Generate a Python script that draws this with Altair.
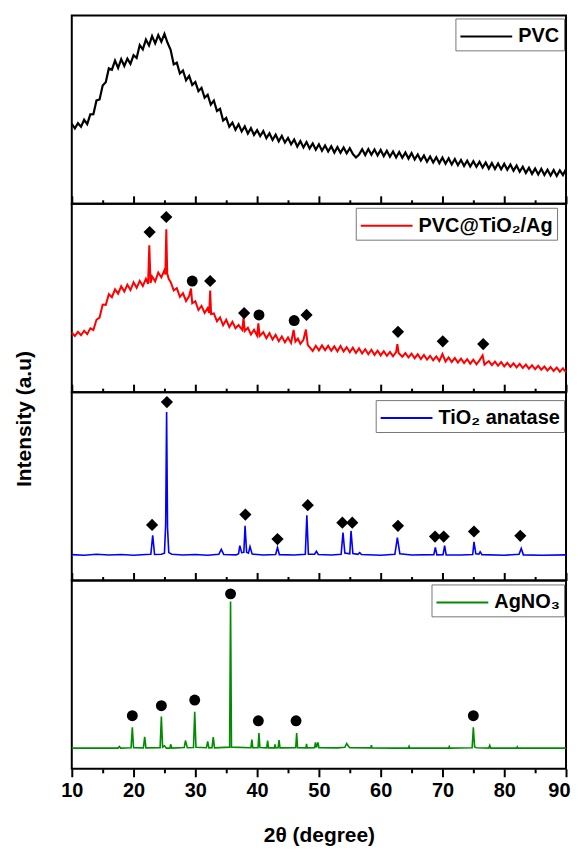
import altair as alt
import pandas as pd

FONT = "Liberation Sans"
X_DOMAIN = [10, 90]
TICK_VALUES = [10, 15, 20, 25, 30, 35, 40, 45, 50, 55, 60, 65, 70, 75, 80, 85, 90]

# ---------------- PVC (0.5 degree steps from 10 to 90) ----------------
pvc_y = [
    42.5, 40.0, 42.8, 40.9, 44.6, 42.3, 47.5, 47.6, 54.9, 55.4,
    62.8, 64.5, 71.9, 71.2, 76.0, 72.1, 76.8, 73.2, 77.1, 74.3,
    78.9, 77.4, 84.3, 82.0, 87.2, 84.1, 89.0, 85.2, 89.6, 86.1,
    90.2, 85.5, 81.8, 74.0, 74.9, 69.2, 70.8, 65.6, 67.9, 63.1,
    64.7, 59.8, 61.6, 56.3, 57.9, 52.6, 54.8, 49.3, 50.4, 44.2,
    45.6, 40.9, 43.1, 39.3, 42.2, 38.4, 41.1, 37.3, 40.2, 36.6,
    39.1, 36.0, 38.6, 34.9, 37.5, 33.9, 36.7, 33.2, 36.1, 32.5,
    35.0, 31.6, 34.1, 30.4, 33.3, 29.9, 32.8, 29.4, 32.0, 28.7,
    31.6, 28.2, 31.0, 27.8, 30.5, 27.2, 30.1, 27.1, 29.9, 26.8,
    29.5, 26.4, 24.6, 26.2, 29.0, 25.9, 29.1, 26.0, 28.8, 25.7,
    28.6, 25.3, 28.2, 25.0, 27.8, 24.6, 27.5, 24.4, 27.2, 24.0,
    26.9, 23.5, 26.2, 23.0, 25.6, 22.3, 25.1, 21.9, 24.7, 21.6,
    24.5, 21.3, 24.2, 20.9, 23.8, 20.5, 23.3, 20.1, 22.9, 19.8,
    22.6, 19.6, 22.3, 19.2, 21.9, 18.7, 21.6, 18.5, 21.4, 18.3,
    21.2, 18.1, 20.9, 17.6, 20.3, 17.0, 19.7, 16.4, 19.1, 15.9,
    18.7, 15.6, 18.6, 15.3, 18.1, 15.0, 17.9, 14.8, 17.8, 15.3,
    18.5,
]
pvc_x = [10 + 0.5 * i for i in range(len(pvc_y))]

# ---------------- PVC@TiO2/Ag ----------------
comp_x = [
    10.0, 10.5, 11.0, 11.5, 12.0, 12.5, 13.0, 13.5, 14.0, 14.5,
    15.0, 15.5, 16.0, 16.5, 17.0, 17.5, 18.0, 18.5, 19.0, 19.5,
    20.0, 20.5, 21.0, 21.5, 22.0, 22.35, 22.55, 22.75, 23.0, 23.5,
    24.0, 24.5, 25.0, 25.15, 25.3, 25.45, 25.7, 26.0, 26.5, 27.0,
    27.5, 28.0, 28.5, 29.0, 29.3, 29.5, 30.0, 30.5, 31.0, 31.5,
    32.0, 32.25, 32.4, 32.55, 33.0, 33.5, 34.0, 34.5, 35.0, 35.5,
    36.0, 36.5, 37.0, 37.6, 37.8, 38.0, 38.5, 39.0, 39.5, 40.0,
    40.2, 40.4, 41.0, 41.5, 42.0, 42.5, 43.0, 43.5, 44.0, 44.5,
    45.0, 45.5, 45.9, 46.2, 46.6, 47.0, 47.5, 47.9, 48.2, 48.6,
    49.0, 49.5, 50.0, 50.5, 51.0, 51.5, 52.0, 52.5, 53.0, 53.5,
    54.0, 54.5, 55.0, 55.5, 56.0, 56.5, 57.0, 57.5, 58.0, 58.5,
    59.0, 59.5, 60.0, 60.5, 61.0, 61.5, 62.0, 62.5, 62.7, 62.9,
    63.5, 64.0, 64.5, 65.0, 65.5, 66.0, 66.5, 67.0, 67.5, 68.0,
    68.5, 69.0, 69.5, 70.0, 70.5, 71.0, 71.5, 72.0, 72.5, 73.0,
    73.5, 74.0, 74.5, 75.0, 75.5, 76.0, 76.5, 76.8, 77.5, 78.0,
    78.5, 79.0, 79.5, 80.0, 80.5, 81.0, 81.5, 82.0, 82.5, 83.0,
    83.5, 84.0, 84.5, 85.0, 85.5, 86.0, 86.5, 87.0, 87.5, 88.0,
    88.5, 89.0, 89.5, 90.0,
]
comp_y = [
    31.5, 29.8, 32.0, 30.2, 32.6, 30.8, 33.9, 33.0, 38.4, 39.6,
    46.5, 46.3, 52.0, 50.4, 54.6, 52.3, 56.2, 53.4, 57.1, 54.2,
    58.3, 55.4, 59.1, 56.3, 60.2, 57.5, 78.0, 58.0, 61.4, 58.8,
    63.5, 60.9, 64.8, 62.5, 86.5, 63.0, 60.0, 58.5, 54.0, 55.2,
    50.6, 52.5, 48.4, 51.0, 55.0, 47.2, 48.3, 43.6, 45.8, 42.1,
    44.6, 42.0, 54.0, 41.5, 41.8, 37.6, 39.7, 35.5, 38.4, 34.6,
    37.3, 33.9, 35.6, 33.0, 39.5, 32.5, 34.2, 30.6, 33.1, 30.0,
    36.5, 29.8, 31.8, 28.6, 31.3, 27.9, 30.4, 27.0, 29.6, 26.5,
    29.0, 26.1, 33.0, 26.8, 28.4, 25.6, 27.8, 33.2, 25.0, 23.5,
    21.8, 24.6, 22.2, 24.8, 22.3, 24.6, 22.0, 24.3, 21.7, 24.5,
    21.6, 23.8, 21.2, 23.6, 20.8, 23.2, 20.5, 22.8, 20.1, 22.5,
    19.8, 22.0, 19.5, 21.7, 19.3, 21.4, 19.0, 21.2, 25.5, 20.8,
    18.8, 20.7, 18.4, 20.4, 18.0, 20.1, 17.6, 19.7, 17.3, 19.3,
    16.9, 19.0, 16.6, 20.2, 16.3, 18.4, 16.0, 18.1, 15.7, 17.8,
    15.4, 17.5, 15.1, 17.2, 14.8, 16.9, 19.5, 14.6, 16.5, 14.3,
    16.2, 14.0, 15.9, 13.7, 15.6, 13.4, 15.3, 13.1, 15.0, 12.8,
    14.6, 12.5, 14.3, 12.2, 14.0, 11.9, 13.6, 11.5, 13.3, 11.2,
    13.0, 10.8, 12.6, 10.5,
]
comp_diamond_x = [22.6, 25.3, 32.4, 37.9, 48.0, 62.8, 70.05, 76.6]
comp_diamond_y = [85, 93, 59, 42, 41, 32, 27, 25.5]
comp_circle_x = [29.5, 40.3, 46.0]
comp_circle_y = [59, 41, 38]

# ---------------- TiO2 anatase ----------------
tio2_x = [
    10.0, 12.0, 14.0, 16.0, 18.0, 20.0, 22.0, 22.8, 23.1, 23.4,
    24.5, 25.0, 25.2, 25.35, 25.5, 25.7, 26.2, 28.0, 30.0, 32.0,
    33.8, 34.2, 34.6, 36.6, 37.0, 37.2, 37.5, 37.85, 38.05, 38.3,
    38.6, 38.85, 39.2, 41.0, 43.0, 43.3, 43.6, 46.0, 47.8, 48.05,
    48.3, 49.3, 49.6, 49.9, 52.0, 53.6, 53.9, 54.2, 55.0, 55.2,
    55.5, 56.3, 56.6, 56.9, 60.0, 62.3, 62.7, 63.1, 65.0, 68.6,
    68.85, 69.1, 70.1, 70.35, 70.6, 73.0, 74.9, 75.1, 75.4, 75.9,
    76.1, 76.4, 80.0, 82.4, 82.75, 83.1, 86.0, 90.0,
]
tio2_y = [
    13.7, 13.4, 13.9, 13.5, 13.8, 13.4, 13.8, 13.9, 24.0, 13.8,
    13.9, 14.5, 30.0, 89.5, 28.0, 14.8, 13.9, 13.5, 13.8, 13.4,
    13.9, 16.5, 13.8, 13.6, 14.2, 18.5, 14.8, 15.0, 29.0, 15.0,
    14.5, 18.0, 14.0, 13.5, 13.8, 17.5, 13.7, 13.5, 13.9, 34.6,
    14.0, 13.9, 15.5, 13.8, 13.5, 13.9, 25.4, 14.6, 14.2, 26.3,
    14.3, 13.9, 14.8, 13.8, 13.4, 13.9, 22.8, 14.2, 13.5, 13.7,
    17.5, 13.6, 13.7, 18.5, 13.6, 13.5, 13.8, 20.5, 14.2, 14.0,
    15.2, 13.7, 13.4, 13.9, 17.0, 13.6, 13.4, 13.6,
]
tio2_diamond_x = [23.0, 25.4, 38.1, 43.3, 48.2, 53.8, 55.4, 62.8, 68.8, 70.2, 75.1, 82.6]
tio2_diamond_y = [29.5, 94.7, 35, 22, 40, 30.7, 30.7, 29, 23.3, 23.3, 26, 23.7]

# ---------------- AgNO3 ----------------
ag_x = [
    10.0, 17.5, 17.7, 17.9, 19.6, 19.8, 20.0, 21.6, 21.8, 22.0,
    24.3, 24.5, 24.7, 25.0, 25.3, 25.9, 26.0, 26.2, 28.2, 28.4,
    28.7, 29.7, 29.9, 30.1, 31.8, 32.0, 32.2, 32.7, 32.9, 33.1,
    35.55, 35.7, 35.85, 39.0, 39.15, 39.3, 40.15, 40.3, 40.45, 41.55,
    41.7, 41.85, 42.8, 42.9, 43.0, 43.4, 43.55, 43.7, 46.25, 46.4,
    46.55, 47.9, 48.0, 48.1, 49.3, 49.45, 49.6, 49.85, 50.0, 53.0,
    54.2, 54.5, 54.8, 55.0, 58.4, 58.5, 58.6, 62.0, 64.5, 64.6,
    64.7, 68.0, 71.0, 71.1, 71.2, 74.8, 75.0, 75.2, 75.5, 77.5,
    77.65, 77.8, 82.0, 82.1, 82.2, 85.0, 90.0,
]
ag_y = [
    11.0, 11.0, 11.8, 11.0, 11.2, 22.0, 11.2, 11.1, 17.0, 11.1,
    11.2, 27.8, 11.5, 12.2, 11.0, 11.0, 13.0, 11.0, 11.3, 15.0,
    11.2, 11.3, 30.3, 11.4, 11.2, 14.5, 11.1, 11.2, 16.8, 11.1,
    11.5, 88.8, 11.5, 11.2, 15.5, 11.2, 11.2, 19.0, 11.3, 11.1,
    15.0, 11.1, 11.1, 13.0, 11.1, 11.2, 15.2, 11.1, 11.2, 19.0,
    11.2, 11.1, 13.2, 11.1, 11.2, 14.0, 11.3, 14.0, 11.2, 11.1,
    11.4, 13.4, 12.0, 11.2, 11.1, 12.6, 11.1, 11.0, 11.0, 11.9,
    11.0, 11.0, 11.0, 11.8, 11.0, 11.2, 22.0, 11.6, 11.2, 11.0,
    12.4, 11.0, 11.0, 11.7, 11.0, 11.0, 11.0,
]
ag_circle_x = [19.8, 24.5, 29.9, 35.7, 40.2, 46.3, 75.0]
ag_circle_y = [28.2, 33.5, 36.5, 92.9, 25.5, 25.5, 28.2]

PANEL_W = 496
PANEL_H = 189

x_scale = alt.Scale(domain=X_DOMAIN, nice=False, zero=False)
y_scale = alt.Scale(domain=[0, 100], nice=False, zero=False)

TICK_SIZE = {"condition": {"test": "datum.value % 10 === 0", "value": 8}, "value": 4}
LAST_ALIGN = {"condition": {"test": "datum.value === 90", "value": "right"}, "value": "center"}
LAST_OFFSET = {"condition": {"test": "datum.value === 90", "value": 4}, "value": 0}

top_axis = alt.Axis(
    orient="top", values=TICK_VALUES, labels=False, domain=False, grid=False,
    title=None, ticks=True, tickColor="black", tickWidth=2, tickSize=TICK_SIZE,
)
bottom_axis = alt.Axis(
    orient="bottom", values=TICK_VALUES, domain=False, grid=False,
    labelExpr="datum.value % 10 === 0 ? datum.label : ''",
    labelFont=FONT, labelFontSize=20, labelFontWeight="bold", labelColor="black",
    labelPadding=4, labelOverlap=False, labelFlush=False,
    labelAlign=LAST_ALIGN, labelOffset=LAST_OFFSET,
    ticks=True, tickColor="black", tickWidth=2, tickSize=TICK_SIZE,
    title="2θ (degree)", titleFont=FONT, titleFontSize=21, titleFontWeight="bold",
    titleColor="black", titlePadding=24,
)

# legend line sample: a path 4 units long drawn from the symbol's left edge
LEGEND_SYMBOL = "M-1,0L3,0"


def line_layer(xs, ys, name, color, axis, lx, ly, width=1.6):
    df = pd.DataFrame({"x": xs, "y": ys, "s": [name] * len(xs)})
    return alt.Chart(df).mark_line(strokeWidth=width).encode(
        x=alt.X("x:Q", scale=x_scale, axis=axis),
        y=alt.Y("y:Q", scale=y_scale, axis=None),
        color=alt.Color(
            "s:N",
            scale=alt.Scale(domain=[name], range=[color]),
            legend=alt.Legend(
                orient="none", legendX=lx, legendY=ly, title=None,
                symbolType=LEGEND_SYMBOL, symbolSize=676, symbolStrokeWidth=2,
                labelFont=FONT, labelFontSize=20, labelFontWeight="bold",
                labelColor="black", labelLimit=400, labelOffset=31,
                strokeColor="#777777", fillColor="white", padding=4,
                cornerRadius=0,
            ),
        ),
    )


def marker_layer(xs, ys, shape, size, axis):
    df = pd.DataFrame({"x": xs, "y": ys})
    return alt.Chart(df).mark_point(
        shape=shape, filled=True, color="black", opacity=1, size=size
    ).encode(
        x=alt.X("x:Q", scale=x_scale, axis=axis),
        y=alt.Y("y:Q", scale=y_scale, axis=None),
    )


p1 = line_layer(pvc_x, pvc_y, "PVC", "black", None, 385, 3, 2.2).properties(
    width=PANEL_W, height=PANEL_H
)

p2 = alt.layer(
    line_layer(comp_x, comp_y, "PVC@TiO₂/Ag", "#ff0000", top_axis, 285, 4, 2.0),
    marker_layer(comp_diamond_x, comp_diamond_y, "diamond", 150, top_axis),
    marker_layer(comp_circle_x, comp_circle_y, "circle", 120, top_axis),
).properties(width=PANEL_W, height=PANEL_H)

ytitle = alt.Chart(pd.DataFrame({"t": ["Intensity (a.u)"]})).mark_text(
    angle=270, font=FONT, fontSize=21, fontWeight="bold", color="black",
    align="center", baseline="middle",
).encode(x=alt.value(-47), y=alt.value(27), text="t:N")

p3 = alt.layer(
    line_layer(tio2_x, tio2_y, "TiO₂ anatase", "#0000ff", top_axis, 305, 8),
    marker_layer(tio2_diamond_x, tio2_diamond_y, "diamond", 150, top_axis),
    ytitle,
).properties(width=PANEL_W, height=PANEL_H)

p4 = alt.layer(
    line_layer(ag_x, ag_y, "AgNO₃", "#008c00", bottom_axis, 361, 4),
    marker_layer(ag_circle_x, ag_circle_y, "circle", 120, top_axis),
).resolve_axis(x="independent").properties(width=PANEL_W, height=PANEL_H)

chart = (
    alt.vconcat(p1, p2, p3, p4, spacing=0, bounds="flush")
    .resolve_scale(color="independent")
    .properties(padding={"left": 5, "top": 5, "right": 0, "bottom": 5})
    .configure_view(stroke="black", strokeWidth=2)
)

chart.save("out.html", embed_options={"renderer": "svg", "actions": False})
